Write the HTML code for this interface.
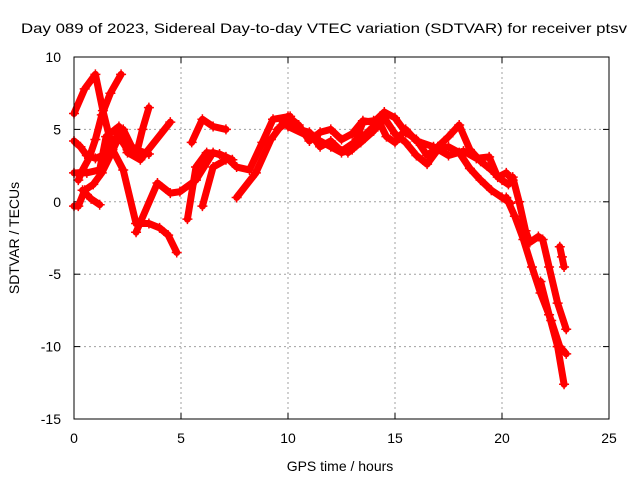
<!DOCTYPE html>
<html><head><meta charset="utf-8"><style>
body{margin:0;background:#fff;width:640px;height:480px;overflow:hidden}
text{font-family:"Liberation Sans",sans-serif;font-size:14px;fill:#000}
</style></head><body>
<svg id="chart" width="640" height="480" xmlns="http://www.w3.org/2000/svg">
<text x="324" y="33" text-anchor="middle" textLength="606" lengthAdjust="spacingAndGlyphs">Day 089 of 2023, Sidereal Day-to-day VTEC variation (SDTVAR) for receiver ptsv</text>
<g id="grid"></g>
<g id="ticks"></g>
<g id="series"></g>
<rect x="74" y="57" width="535" height="362" fill="none" stroke="#000" stroke-width="1"/>
<text x="340" y="471" text-anchor="middle">GPS time / hours</text>
<text transform="translate(19,238) rotate(-90)" text-anchor="middle">SDTVAR / TECUs</text>
</svg>
<script>
const xTicks=[0,5,10,15,20,25];
const yTicks=[10,5,0,-5,-10,-15];
const track1=[[0,6.1],[0.5,7.8],[1.0,8.8],[1.35,6.3],[1.8,3.6],[2.3,2.2],[2.9,-1.5],[3.5,-1.5],[4,-1.8],[4.4,-2.3],[4.8,-3.5]];
const track2=[[2.2,8.8],[1.7,7.5],[1.3,6],[1.0,4.3],[0.7,3],[0.4,2.2],[0.2,1.5]];
const track3=[[3.5,6.5],[3.2,5],[2.9,3.2],[2.5,3.6],[2.1,4.5],[1.7,3.2],[1.3,2],[0.9,1.2],[0.5,0.8],[0.2,-0.3],[0,-0.3]];
const track4=[[4.5,5.5],[3.1,2.9],[2.5,3.4],[2.1,5.2],[1.5,4.5],[1.2,2.2],[0.6,2],[0,2]];
const track5=[[0,4.2],[0.3,3.8],[0.6,3.2],[1,3.0],[1.5,3.3],[2,4.5],[2.3,5],[2.7,3.8],[3.1,3.5],[3.5,3.3]];
const track6=[[0.4,0.8],[0.8,0.2],[1.2,-0.2]];
const track7=[[2.9,-2.1],[3.9,1.3],[4.5,0.6],[4.95,0.7],[5.7,1.5],[6.5,3.4],[7.1,3.1],[7.6,2.4],[8.2,2.2],[8.8,4.1],[9.3,5.7],[10.1,5.9]];
const track8=[[5.3,-1.2],[5.7,2.4],[6.2,3.4],[6.8,3.3],[7.4,2.9]];
const track9=[[6.0,-0.3],[6.5,2.4],[7.1,2.9]];
const track10=[[7.6,0.3],[8.5,2],[9.2,4.3],[9.8,5.5]];
const track11=[[5.5,4.1],[6.0,5.7],[6.5,5.2],[7.1,5.0]];
const track12=[[10,5.9],[10.5,5.3],[11,4.2],[11.5,4.8],[12,5.0],[12.5,4.3],[13,4.7],[13.5,5.6],[14,5.5],[14.5,6.2],[15,5.8],[15.5,4.8],[16,4.3],[16.5,3.2],[17,3.8],[17.5,4.5],[18,5.3],[18.5,3.6],[19,2.8],[19.5,2.2],[20,1.5],[20.3,1.2]];
const track13=[[9.5,5.0],[10,5.5],[10.5,5.0],[11,4.8],[11.5,3.8],[12,4.2],[12.5,3.5],[13,4.0],[13.5,4.5],[14,5.2],[14.5,5.8],[15,4.7],[15.5,4.1],[16,3.2],[16.5,2.6],[17,3.6],[17.5,3.8],[18,3.4],[18.5,2.3],[19,1.5],[19.5,0.8],[20,0.3],[20.4,-0.1]];
const track14=[[12.8,3.4],[13.4,4.1],[14,4.9],[14.3,5.4],[14.6,4.5],[15,4.1],[15.5,5.0],[16,4.2],[16.8,3.8],[17.5,3.2],[18.2,3.5],[18.8,3.0],[19.4,3.1],[19.8,1.7],[20.2,2.0],[20.5,1.5]];
const track15=[[20.5,1.7],[20.8,0],[21.1,-2],[21.3,-2.8],[21.7,-2.4],[21.9,-2.6],[22.2,-4.5],[22.6,-7],[23,-8.8]];
const track16=[[20.2,0.3],[20.6,-1],[21,-2.6],[21.4,-4.5],[21.8,-6.3],[22.3,-8.2],[22.7,-10],[23,-10.5]];
const track17=[[21.8,-5.5],[22.2,-7.8],[22.6,-10],[22.9,-12.6]];
const track18=[[22.7,-3.1],[22.8,-3.8],[22.9,-4.5]];
const track19=[[10,5.2],[11,4.5],[11.5,4.2],[12,3.8],[12.5,3.4],[13,3.6],[13.5,5.5],[14,5.6]];
const tracks=[track1,track2,track3,track4,track5,track6,track7,track8,track9,track10,track11,track12,track13,track14,track15,track16,track17,track18,track19];

const NS='http://www.w3.org/2000/svg';
const X0=74,X1=609,Y0=419,Y1=57;
const xs=v=>X0+(v-0)/(25-0)*(X1-X0);
const ys=v=>Y0-(v+15)/(25)*(Y0-Y1);
function mk(tag,attrs,parent){const e=document.createElementNS(NS,tag);for(const k in attrs)e.setAttribute(k,attrs[k]);parent.appendChild(e);return e;}
const grid=document.getElementById('grid'),ticks=document.getElementById('ticks'),series=document.getElementById('series');
xTicks.forEach(t=>{
  const x=xs(t);
  if(t>0&&t<25){const g=mk('line',{x1:x,x2:x,y1:Y1,y2:Y0,stroke:'#a0a0a0','stroke-dasharray':'2,3'},grid);
  
  }
  mk('line',{x1:x,x2:x,y1:Y0,y2:Y0-6,stroke:'#000'},ticks);
  mk('line',{x1:x,x2:x,y1:Y1,y2:Y1+6,stroke:'#000'},ticks);
  const l=mk('text',{x:x,y:Y0+24,'text-anchor':'middle'},ticks);l.textContent=t;
  
  
});
yTicks.forEach(t=>{
  const y=ys(t);
  if(t<10&&t>-15){const g=mk('line',{x1:X0,x2:X1,y1:y,y2:y,stroke:'#a0a0a0','stroke-dasharray':'2,3'},grid);
  
  }
  mk('line',{x1:X0,x2:X0+6,y1:y,y2:y,stroke:'#000'},ticks);
  mk('line',{x1:X1,x2:X1-6,y1:y,y2:y,stroke:'#000'},ticks);
  const l=mk('text',{x:X0-13,y:y+5,'text-anchor':'end'},ticks);l.textContent=t;
  
  
});
tracks.forEach(tr=>{
  const p=mk('polyline',{points:tr.map(d=>xs(d[0])+','+ys(d[1])).join(' '),fill:'none',stroke:'#ff0000','stroke-width':7,'stroke-linejoin':'round','stroke-linecap':'round'},series);
  
  
  tr.forEach(d=>{
    const x=xs(d[0]),y=ys(d[1]);
    const m=mk('path',{d:`M${x-5},${y}H${x+5}M${x},${y-5}V${y+5}`,stroke:'#ff0000','stroke-width':1.5},series);
    
    
  });
});
</script>
</body></html>
